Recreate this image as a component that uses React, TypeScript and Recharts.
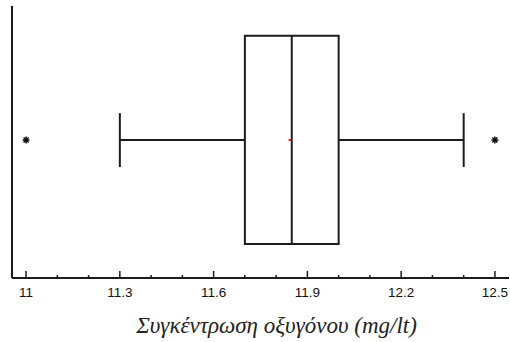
import {
  ComposedChart,
  XAxis,
  YAxis,
  ReferenceArea,
  ReferenceLine,
  Scatter,
  Label,
} from 'recharts';

// five-number summary: lower whisker, Q1, median, Q3, upper whisker
const boxLabels = ['whiskerLow', 'q1', 'median', 'q3', 'whiskerHigh'];
const boxValues = [11.3, 11.7, 11.85, 12.0, 12.4];
const outlierValues = [11.0, 12.5];
const meanValues = [11.845];

const majorTicks = [11, 11.3, 11.6, 11.9, 12.2, 12.5];
const allTicks = [11, 11.1, 11.2, 11.3, 11.4, 11.5, 11.6, 11.7, 11.8, 11.9, 12, 12.1, 12.2, 12.3, 12.4, 12.5];
const axisTitle = 'Συγκέντρωση οξυγόνου (mg/lt)';

const stat = (name: string) => boxValues[boxLabels.indexOf(name)];

// vertical placement of the box inside the [0, 1] band
const yMid = 0.507;
const yBoxLow = 0.125;
const yBoxHigh = 0.891;
const capHalf = 0.099;

const ink = '#1c1c1c';

const outlierData = outlierValues.map((v) => ({ x: v, y: yMid }));
const meanData = meanValues.map((v) => ({ x: v, y: yMid }));

function AxisTick(props: any) {
  const { x, y, payload } = props;
  const major = majorTicks.includes(payload.value);
  return (
    <g>
      <line x1={x} y1={y - 1} x2={x} y2={y - (major ? 7 : 3)} stroke={ink} strokeWidth={1.5} />
      {major && (
        <text
          x={x}
          y={y + 9}
          dy="0.71em"
          textAnchor="middle"
          fontSize={13.5}
          fontFamily="Liberation Sans, Arial, sans-serif"
          fill="#111"
        >
          {payload.value}
        </text>
      )}
    </g>
  );
}

function Star(props: any) {
  const { cx, cy } = props;
  const r = 3.5;
  const d = 2.5;
  return (
    <g stroke="#000" strokeWidth={1.4}>
      <line x1={cx - r} y1={cy} x2={cx + r} y2={cy} />
      <line x1={cx} y1={cy - r} x2={cx} y2={cy + r} />
      <line x1={cx - d} y1={cy - d} x2={cx + d} y2={cy + d} />
      <line x1={cx - d} y1={cy + d} x2={cx + d} y2={cy - d} />
    </g>
  );
}

function MeanDot(props: any) {
  const { cx, cy } = props;
  return <rect x={cx - 1.5} y={cy - 1} width={3} height={2} fill="#e01010" />;
}

export default function App() {
  return (
    <div style={{ position: 'absolute', left: 0, top: 0, background: '#fff' }}>
      <ComposedChart
        width={510}
        height={342}
        margin={{ top: 6, right: 1, bottom: 0, left: 11 }}
      >
        <XAxis
          type="number"
          dataKey="x"
          domain={[10.955, 12.545]}
          allowDataOverflow
          ticks={allTicks}
          interval={0}
          tickLine={false}
          tickSize={0}
          tickMargin={0}
          tick={AxisTick}
          height={64}
          axisLine={{ stroke: ink, strokeWidth: 2 }}
        >
          <Label
            value={axisTitle}
            position="insideBottom"
            offset={9}
            dx={16}
            style={{
              fontFamily: 'Liberation Serif, Times New Roman, serif',
              fontStyle: 'italic',
              fontSize: 23,
              fill: '#222',
            }}
          />
        </XAxis>
        <YAxis
          type="number"
          dataKey="y"
          domain={[0, 1]}
          width={1}
          tick={false}
          tickLine={false}
          axisLine={{ stroke: ink, strokeWidth: 2 }}
        />

        {/* whiskers */}
        <ReferenceLine
          segment={[{ x: stat('whiskerLow'), y: yMid }, { x: stat('q1'), y: yMid }]}
          stroke={ink}
          strokeWidth={2}
        />
        <ReferenceLine
          segment={[{ x: stat('q3'), y: yMid }, { x: stat('whiskerHigh'), y: yMid }]}
          stroke={ink}
          strokeWidth={2}
        />
        <ReferenceLine
          segment={[{ x: stat('whiskerLow'), y: yMid - capHalf }, { x: stat('whiskerLow'), y: yMid + capHalf }]}
          stroke={ink}
          strokeWidth={2}
        />
        <ReferenceLine
          segment={[{ x: stat('whiskerHigh'), y: yMid - capHalf }, { x: stat('whiskerHigh'), y: yMid + capHalf }]}
          stroke={ink}
          strokeWidth={2}
        />

        {/* box */}
        <ReferenceArea
          x1={stat('q1')}
          x2={stat('q3')}
          y1={yBoxLow}
          y2={yBoxHigh}
          fill="#fff"
          fillOpacity={1}
          stroke={ink}
          strokeWidth={2}
        />
        <ReferenceLine
          segment={[{ x: stat('median'), y: yBoxLow }, { x: stat('median'), y: yBoxHigh }]}
          stroke={ink}
          strokeWidth={2}
        />

        <Scatter data={outlierData} shape={Star} isAnimationActive={false} />
        <Scatter data={meanData} shape={MeanDot} isAnimationActive={false} />
      </ComposedChart>
    </div>
  );
}
